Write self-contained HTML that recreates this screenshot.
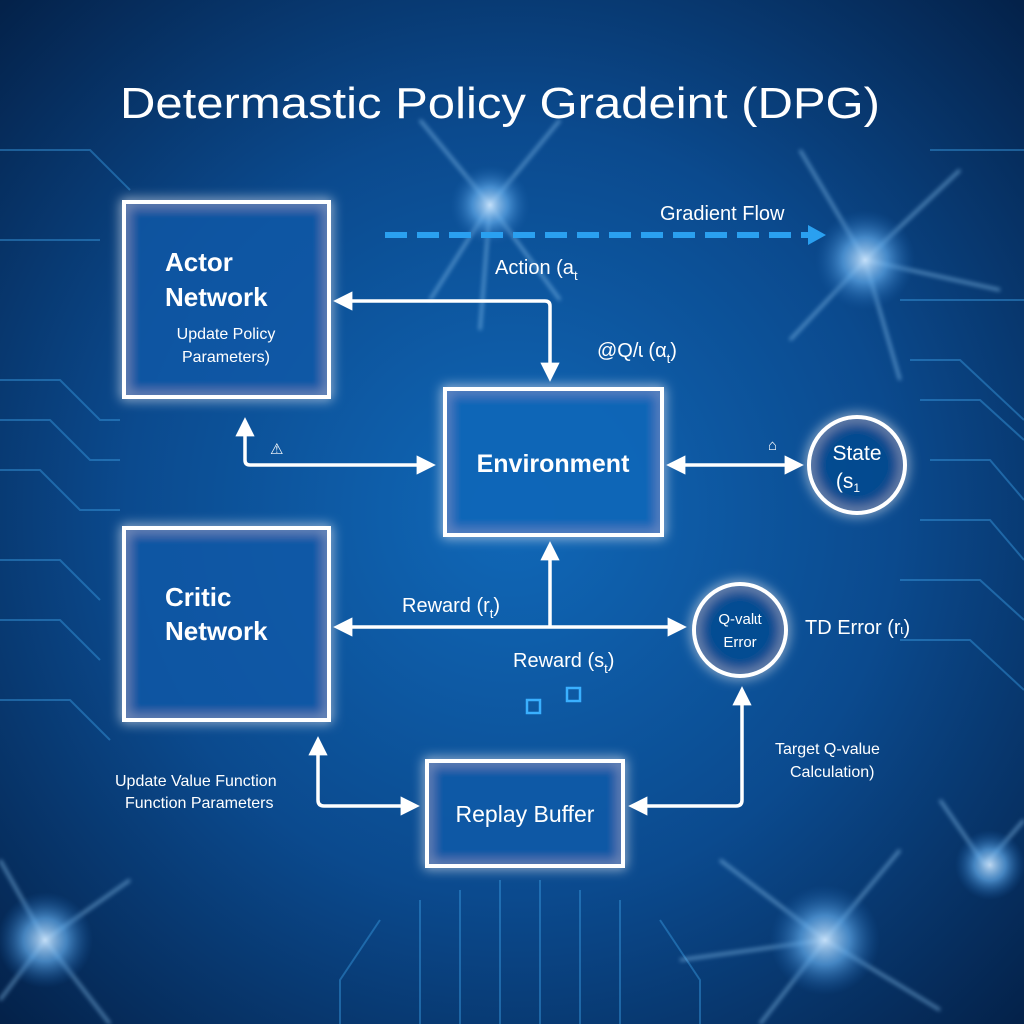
<!DOCTYPE html>
<html><head><meta charset="utf-8"><style>
html,body{margin:0;padding:0;background:#04204a;}
svg{display:block}
text{font-family:"Liberation Sans","DejaVu Sans",sans-serif;fill:#fff}
</style></head><body>
<svg width="1024" height="1024" viewBox="0 0 1024 1024" xmlns="http://www.w3.org/2000/svg">
<defs>
<radialGradient id="bg" cx="0.5" cy="0.5" r="0.75">
<stop offset="0" stop-color="#1068b8"/><stop offset="0.5" stop-color="#0b4a8e"/><stop offset="1" stop-color="#031c40"/>
</radialGradient>
<radialGradient id="neu" cx="0.5" cy="0.5" r="0.5">
<stop offset="0" stop-color="#cfe8ff" stop-opacity="0.9"/><stop offset="0.45" stop-color="#5fa8e8" stop-opacity="0.7"/><stop offset="1" stop-color="#1a5fa8" stop-opacity="0"/>
</radialGradient>
<filter id="glow" x="-30%" y="-30%" width="160%" height="160%"><feGaussianBlur stdDeviation="6" result="b"/><feMerge><feMergeNode in="b"/><feMergeNode in="SourceGraphic"/></feMerge></filter>
<filter id="blur"><feGaussianBlur stdDeviation="2"/></filter>
<marker id="ah" viewBox="0 0 10 10" refX="8" refY="5" markerWidth="5.5" markerHeight="5.5" orient="auto-start-reverse"><path d="M0,0 L10,5 L0,10 z" fill="#fff"/></marker>
</defs>
<rect width="1024" height="1024" fill="url(#bg)"/>
<g stroke="#3a9be0" stroke-width="2" fill="none" opacity="0.45">
<path d="M0,380 L60,380 L100,420 L120,420"/><path d="M0,420 L50,420 L90,460 L120,460"/><path d="M0,470 L40,470 L80,510 L120,510"/>
<path d="M0,560 L60,560 L100,600"/><path d="M0,620 L60,620 L100,660"/><path d="M0,700 L70,700 L110,740"/>
<path d="M910,360 L960,360 L1024,420"/><path d="M920,400 L980,400 L1024,440"/><path d="M930,460 L990,460 L1024,500"/><path d="M920,520 L990,520 L1024,560"/><path d="M900,580 L980,580 L1024,620"/><path d="M900,640 L970,640 L1024,690"/>
<path d="M420,900 L420,1024"/><path d="M460,890 L460,1024"/><path d="M500,880 L500,1024"/><path d="M540,880 L540,1024"/><path d="M580,890 L580,1024"/><path d="M620,900 L620,1024"/><path d="M380,920 L340,980 L340,1024"/><path d="M660,920 L700,980 L700,1024"/>
<path d="M0,150 L90,150 L130,190"/><path d="M0,240 L100,240"/><path d="M930,150 L1024,150"/><path d="M900,300 L1024,300"/>
</g>
<g filter="url(#blur)" stroke="#8cc4f0" stroke-width="3" fill="none" opacity="0.6">
<path d="M490,205 L420,120 M490,205 L560,120 M490,205 L430,300 M490,205 L560,300 M490,205 L480,330"/>
<path d="M865,260 L800,150 M865,260 L960,170 M865,260 L1000,290 M865,260 L900,380 M865,260 L790,340"/>
<path d="M45,940 L0,860 M45,940 L130,880 M45,940 L110,1024 M45,940 L0,1000"/>
<path d="M825,940 L720,860 M825,940 L900,850 M825,940 L940,1010 M825,940 L760,1024 M825,940 L680,960"/>
<path d="M985,865 L940,800 M985,865 L1024,820"/>
</g>
<circle cx="490" cy="205" r="40" fill="url(#neu)"/>
<circle cx="865" cy="260" r="50" fill="url(#neu)"/>
<circle cx="45" cy="940" r="48" fill="url(#neu)"/>
<circle cx="825" cy="940" r="55" fill="url(#neu)"/>
<circle cx="990" cy="865" r="35" fill="url(#neu)"/>
<text x="120" y="118" font-size="44" textLength="760" lengthAdjust="spacingAndGlyphs">Determastic Policy Gradeint (DPG)</text>
<line x1="385" y1="235" x2="812" y2="235" stroke="#2aa0f0" stroke-width="6" stroke-dasharray="22,10"/>
<path d="M808,225 L826,235 L808,245 z" fill="#2aa0f0"/>
<text x="660" y="220" font-size="20">Gradient Flow</text>
<g filter="url(#glow)" stroke="#fff" stroke-width="4">
<rect x="124" y="202" width="205" height="195" fill="#0d5aa8" fill-opacity="0.55"/>
<rect x="445" y="389" width="217" height="146" fill="#0f66b8" fill-opacity="0.7"/>
<rect x="124" y="528" width="205" height="192" fill="#0d5aa8" fill-opacity="0.55"/>
<rect x="427" y="761" width="196" height="105" fill="#0d5aa8" fill-opacity="0.6"/>
<circle cx="857" cy="465" r="48" fill="#0a4a90" fill-opacity="0.5"/>
<circle cx="740" cy="630" r="46" fill="#0a4a90" fill-opacity="0.5"/>
</g>
<text x="165" y="271" font-size="26" font-weight="700">Actor</text>
<text x="165" y="306" font-size="26" font-weight="700">Network</text>
<text x="226" y="339" font-size="16" text-anchor="middle">Update Policy</text>
<text x="226" y="362" font-size="16" text-anchor="middle">Parameters)</text>
<text x="553" y="472" font-size="25" font-weight="700" text-anchor="middle">Environment</text>
<text x="165" y="606" font-size="26" font-weight="700">Critic</text>
<text x="165" y="640" font-size="26" font-weight="700">Network</text>
<text x="525" y="822" font-size="23" text-anchor="middle">Replay Buffer</text>
<text x="857" y="460" font-size="21" text-anchor="middle">State</text>
<text x="848" y="488" font-size="21" text-anchor="middle">(s<tspan font-size="12" dy="4">1</tspan></text>
<text x="740" y="624" font-size="15" text-anchor="middle">Q-valɩt</text>
<text x="740" y="647" font-size="15" text-anchor="middle">Error</text>
<g stroke="#fff" stroke-width="3.5" fill="none">
<path d="M337,301 L545,301 Q550,301 550,306 L550,378" marker-start="url(#ah)" marker-end="url(#ah)"/>
<path d="M245,421 L245,460 Q245,465 250,465 L432,465" marker-start="url(#ah)" marker-end="url(#ah)"/>
<path d="M670,465 L800,465" marker-start="url(#ah)" marker-end="url(#ah)"/>
<path d="M337,627 L683,627" marker-start="url(#ah)" marker-end="url(#ah)"/>
<path d="M550,545 L550,627" marker-start="url(#ah)"/>
<path d="M318,740 L318,800 Q318,806 324,806 L416,806" marker-start="url(#ah)" marker-end="url(#ah)"/>
<path d="M632,806 L736,806 Q742,806 742,800 L742,690" marker-start="url(#ah)" marker-end="url(#ah)"/>
</g>
<rect x="527" y="700" width="13" height="13" fill="none" stroke="#3ab0ff" stroke-width="2.5"/>
<rect x="567" y="688" width="13" height="13" fill="none" stroke="#3ab0ff" stroke-width="2.5"/>
<text x="495" y="274" font-size="20">Action (a<tspan font-size="13" dy="6">t</tspan></text>
<text x="597" y="357" font-size="20">@Q/ɩ (α<tspan font-size="13" dy="6">t</tspan><tspan dy="-6">)</tspan></text>
<text x="270" y="454" font-size="15">⚠</text>
<text x="768" y="450" font-size="15">⌂</text>
<text x="402" y="612" font-size="20">Reward (r<tspan font-size="13" dy="6">t</tspan><tspan dy="-6">)</tspan></text>
<text x="513" y="667" font-size="20">Reward (s<tspan font-size="13" dy="6">t</tspan><tspan dy="-6">)</tspan></text>
<text x="805" y="634" font-size="20">TD Error (r<tspan font-size="13">ɩ</tspan>)</text>
<text x="115" y="786" font-size="16">Update Value Function</text>
<text x="125" y="808" font-size="16">Function Parameters</text>
<text x="775" y="754" font-size="16">Target Q-value</text>
<text x="790" y="777" font-size="16">Calculation)</text>
</svg>
</body></html>
